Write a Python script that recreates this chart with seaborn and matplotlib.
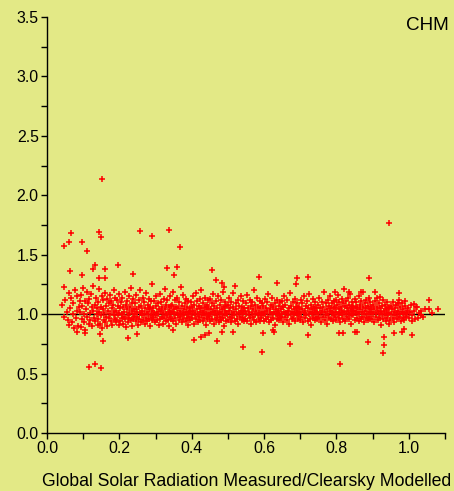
import matplotlib
matplotlib.use("Agg")
import matplotlib.pyplot as plt
import seaborn as sns
import pandas as pd
from matplotlib.ticker import MultipleLocator

# ---- data ----
cloud_x = [
 0.042,0.048,0.051,0.055,0.058,0.060,0.062,0.064,0.067,0.069,0.071,0.073,0.075,0.077,0.080,0.082,0.084,0.086,0.088,0.090,
 0.091,0.093,0.095,0.096,0.098,0.100,0.101,0.103,0.105,0.106,0.108,0.110,0.111,0.113,0.115,0.116,0.118,0.120,0.121,0.123,0.125,0.126,0.128,0.130,0.132,0.133,0.135,0.137,0.138,0.140,
 0.141,0.142,0.144,0.145,0.147,0.148,0.150,0.151,0.153,0.154,0.156,0.157,0.158,0.160,0.161,0.163,0.164,0.166,0.167,0.169,0.170,0.172,0.173,0.175,0.176,0.178,0.179,0.181,0.182,0.184,0.185,0.186,0.188,0.189,0.190,
 0.191,0.192,0.194,0.195,0.196,0.198,0.199,0.200,0.202,0.203,0.204,0.206,0.207,0.208,0.210,0.211,0.212,0.214,0.215,0.216,0.218,0.219,0.220,0.222,0.223,0.224,0.226,0.227,0.228,0.230,0.231,0.232,0.234,0.235,0.236,0.237,0.238,0.239,0.240,0.241,
 0.242,0.243,0.245,0.246,0.247,0.249,0.250,0.251,0.253,0.254,0.255,0.257,0.258,0.259,0.261,0.262,0.263,0.265,0.266,0.267,0.269,0.270,0.271,0.273,0.274,0.275,0.277,0.278,0.279,0.281,0.282,0.283,0.285,0.286,0.287,0.288,0.289,0.290,0.291,0.292,
 0.293,0.294,0.296,0.297,0.298,0.300,0.301,0.302,0.304,0.305,0.306,0.308,0.309,0.310,0.312,0.313,0.314,0.316,0.317,0.318,0.320,0.321,0.322,0.324,0.325,0.326,0.328,0.329,0.330,0.332,0.333,0.334,0.336,0.337,0.338,0.339,0.340,0.341,0.342,0.343,
 0.344,0.345,0.347,0.348,0.349,0.351,0.352,0.353,0.355,0.356,0.357,0.359,0.360,0.361,0.363,0.364,0.365,0.367,0.368,0.369,0.371,0.372,0.373,0.375,0.376,0.377,0.379,0.380,0.381,0.383,0.384,0.385,0.387,0.388,0.389,0.390,0.391,0.392,0.393,0.394,
 0.395,0.396,0.398,0.399,0.400,0.402,0.403,0.404,0.406,0.407,0.408,0.410,0.411,0.412,0.414,0.415,0.416,0.418,0.419,0.420,0.422,0.423,0.424,0.426,0.427,0.428,0.430,0.431,0.432,0.434,0.435,0.436,0.438,0.439,0.440,0.441,0.442,0.443,0.444,0.445,
 0.446,0.447,0.449,0.450,0.451,0.453,0.454,0.455,0.457,0.458,0.459,0.461,0.462,0.463,0.465,0.466,0.467,0.469,0.470,0.471,0.473,0.474,0.475,0.477,0.478,0.479,0.481,0.482,0.483,0.485,0.486,0.487,0.489,0.490,0.491,0.492,0.493,0.494,0.495,0.496,
 0.497,0.499,0.500,0.502,0.503,0.505,0.506,0.508,0.509,0.511,0.512,0.514,0.515,0.517,0.518,0.520,0.521,0.523,0.524,0.526,0.527,0.529,0.530,0.532,0.533,0.535,0.536,0.538,0.539,0.540,0.541,0.542,0.543,0.544,0.545,
 0.546,0.548,0.549,0.551,0.552,0.554,0.555,0.557,0.558,0.560,0.561,0.563,0.564,0.566,0.567,0.569,0.570,0.572,0.573,0.575,0.576,0.578,0.579,0.581,0.582,0.584,0.585,0.587,0.588,0.589,0.590,0.591,0.592,0.593,0.594,
 0.596,0.597,0.599,0.600,0.602,0.603,0.605,0.606,0.608,0.609,0.611,0.612,0.614,0.615,0.617,0.618,0.620,0.621,0.623,0.624,0.626,0.627,0.629,0.630,0.632,0.633,0.635,0.636,0.638,0.639,0.640,0.641,0.642,0.643,0.644,
 0.646,0.647,0.649,0.650,0.652,0.653,0.655,0.656,0.658,0.659,0.661,0.662,0.664,0.665,0.667,0.668,0.670,0.671,0.673,0.674,0.676,0.677,0.679,0.680,0.682,0.683,0.685,0.686,0.688,0.689,0.690,0.691,0.692,0.693,0.694,
 0.696,0.697,0.699,0.700,0.702,0.703,0.705,0.706,0.708,0.709,0.711,0.712,0.714,0.715,0.717,0.718,0.720,0.721,0.723,0.724,0.726,0.727,0.729,0.730,0.732,0.733,0.735,0.736,0.738,0.739,0.740,0.741,0.742,0.743,0.744,
 0.746,0.747,0.749,0.750,0.752,0.753,0.755,0.756,0.758,0.759,0.761,0.762,0.764,0.765,0.767,0.768,0.770,0.771,0.773,0.774,0.776,0.777,0.779,0.780,0.782,0.783,0.785,0.786,0.788,0.789,0.790,0.791,0.792,0.793,0.794,
 0.795,0.796,0.798,0.799,0.800,0.802,0.803,0.804,0.806,0.807,0.808,0.810,0.811,0.812,0.814,0.815,0.816,0.818,0.819,0.820,0.822,0.823,0.824,0.826,0.827,0.828,0.830,0.831,0.832,0.834,0.835,0.836,0.838,0.839,0.840,0.841,0.842,0.843,0.844,0.845,
 0.846,0.847,0.849,0.850,0.851,0.853,0.854,0.855,0.857,0.858,0.859,0.861,0.862,0.863,0.865,0.866,0.867,0.869,0.870,0.871,0.873,0.874,0.875,0.877,0.878,0.879,0.881,0.882,0.883,0.885,0.886,0.887,0.889,0.890,0.891,0.892,0.893,0.894,0.895,0.896,
 0.897,0.899,0.900,0.902,0.903,0.905,0.906,0.908,0.909,0.911,0.912,0.914,0.915,0.917,0.918,0.920,0.921,0.923,0.924,0.926,0.927,0.929,0.930,0.932,0.933,0.935,0.936,0.938,0.939,0.940,0.941,0.942,0.943,0.944,0.945,
 0.946,0.948,0.950,0.951,0.953,0.955,0.957,0.958,0.960,0.962,0.963,0.965,0.967,0.968,0.970,0.972,0.973,0.975,0.977,0.978,0.980,0.982,0.983,0.985,0.987,0.988,0.990,0.991,0.992,0.994,
 0.996,0.998,1.001,1.004,1.007,1.010,1.013,1.017,1.020,1.028,1.035,1.045,
]
cloud_y = [
 1.08,0.98,1.12,1.02,0.95,1.18,0.91,1.05,1.14,0.93,1.00,1.09,0.88,1.20,0.97,1.03,1.15,0.90,1.06,1.11,
 1.02,0.89,1.16,0.96,1.07,1.22,0.93,1.00,1.11,0.87,1.04,1.19,0.98,1.09,0.92,1.13,1.01,0.95,1.17,1.06,0.90,1.03,1.24,0.97,1.08,0.94,1.14,1.00,1.05,0.91,
 1.10,0.96,1.02,1.21,0.92,1.06,0.99,1.15,0.88,1.04,1.12,0.95,1.01,1.18,0.93,1.07,0.98,1.13,0.90,1.03,1.09,0.97,1.16,1.00,0.94,1.11,1.05,0.91,1.08,0.99,1.20,1.02,0.96,1.14,0.93,
 1.03,0.95,1.12,0.99,1.07,0.91,1.17,1.01,0.94,1.05,1.10,0.97,1.00,1.14,0.92,1.06,0.98,1.02,1.19,0.96,1.08,0.89,1.04,1.11,0.99,0.93,1.15,1.01,0.97,1.06,1.22,0.95,1.03,0.90,1.09,1.00,0.96,1.13,1.04,0.98,
 1.00,1.09,0.94,1.04,1.16,0.98,1.02,0.91,1.12,1.06,0.96,1.01,1.20,0.93,1.07,0.99,1.03,1.14,0.95,1.00,1.10,0.92,1.05,0.97,1.18,1.02,0.94,1.08,1.00,0.96,1.13,1.04,0.90,1.06,0.99,1.11,0.95,1.03,1.25,0.98,
 1.05,0.97,1.01,1.11,0.93,1.07,0.99,1.15,1.02,0.95,1.09,1.00,0.91,1.04,1.17,0.96,1.03,1.10,0.98,1.06,0.92,1.01,1.13,0.97,1.04,1.21,0.94,1.00,1.08,0.99,1.12,0.95,1.02,1.06,0.90,1.15,1.03,0.98,1.07,1.01,
 0.96,1.08,1.02,1.19,0.94,1.04,1.00,1.12,0.97,1.06,0.92,1.01,1.14,0.99,1.05,0.95,1.10,1.03,0.98,1.23,1.00,0.93,1.07,1.01,1.16,0.96,1.04,0.99,1.09,0.94,1.02,1.13,0.97,1.06,1.00,0.91,1.11,1.03,0.98,1.05,
 1.02,0.95,1.10,1.00,1.06,0.97,1.15,1.03,0.92,1.08,0.99,1.01,1.18,0.96,1.04,1.11,0.93,1.00,1.07,0.98,1.13,1.02,0.95,1.05,1.20,0.99,1.03,0.94,1.09,1.01,0.97,1.14,1.06,0.91,1.00,1.08,0.96,1.04,1.12,0.99,
 1.06,0.98,1.01,1.13,0.94,1.04,1.00,1.09,0.96,1.17,1.02,0.92,1.07,0.99,1.03,1.11,0.95,1.00,1.05,0.97,1.15,1.01,0.93,1.08,1.02,0.98,1.12,0.95,1.04,1.00,1.19,0.97,1.06,0.90,1.03,1.10,0.99,1.01,0.94,1.07,
 1.00,1.08,0.95,1.03,1.14,0.98,1.05,0.93,1.10,1.01,0.97,1.06,1.18,0.99,1.02,0.94,1.09,1.04,0.96,1.00,1.12,0.92,1.07,1.01,0.98,1.15,1.03,0.95,1.06,1.00,0.97,1.11,1.02,0.94,1.05,
 1.03,0.96,1.09,1.00,1.16,0.94,1.05,0.99,1.02,1.12,0.97,1.07,0.92,1.01,1.10,0.98,1.04,1.20,0.95,1.00,1.08,0.93,1.03,1.14,0.99,1.06,0.96,1.01,1.11,0.94,1.05,1.00,0.97,1.09,1.02,
 0.99,1.07,1.02,0.94,1.13,1.00,1.05,0.96,1.10,1.03,0.98,1.17,0.93,1.04,1.01,1.08,0.95,1.00,1.14,0.97,1.06,1.02,0.91,1.09,1.00,1.04,0.96,1.12,0.99,1.03,1.07,0.95,1.01,1.10,0.98,
 1.04,0.97,1.11,1.00,1.06,0.93,1.02,1.15,0.98,1.08,1.01,0.95,1.12,1.03,0.99,1.05,0.92,1.18,1.00,1.07,0.96,1.02,1.10,0.97,1.04,1.00,1.13,0.94,1.06,1.01,0.99,1.09,1.03,0.96,1.05,
 1.00,1.06,0.95,1.02,1.12,0.98,1.04,1.09,0.93,1.01,1.15,0.97,1.03,1.07,0.99,1.11,0.94,1.05,1.00,1.17,0.96,1.02,1.08,0.91,1.04,1.00,1.13,0.97,1.06,1.01,0.95,1.10,1.03,0.98,1.05,
 1.02,0.96,1.08,1.00,1.14,0.97,1.05,1.01,0.93,1.10,1.03,0.98,1.06,1.19,0.95,1.02,1.09,0.99,1.04,0.92,1.12,1.00,1.07,0.97,1.03,1.15,0.96,1.05,1.01,1.09,0.94,1.02,1.11,0.99,1.06,
 1.05,0.98,1.12,1.02,0.95,1.08,1.00,1.16,1.04,0.97,1.10,1.01,0.93,1.06,1.13,0.99,1.03,1.09,0.96,1.21,1.02,1.07,0.94,1.00,1.11,1.05,0.98,1.14,1.03,0.96,1.08,1.01,1.17,0.99,1.04,0.92,1.10,1.06,1.00,1.03,
 1.07,0.99,1.03,1.13,0.95,1.05,1.01,1.10,0.97,1.06,1.02,0.94,1.15,1.00,1.08,1.04,0.96,1.11,1.02,0.98,1.06,1.19,1.00,0.93,1.09,1.03,0.97,1.05,1.12,1.00,0.95,1.07,1.02,1.14,0.98,1.04,1.10,0.96,1.01,1.06,
 1.02,0.96,1.08,1.00,1.04,0.93,1.11,1.01,0.98,1.06,1.14,0.95,1.03,1.00,1.09,0.97,1.05,1.02,0.91,1.07,1.00,1.12,0.96,1.03,1.08,0.99,1.04,0.94,1.01,1.10,0.97,1.05,1.00,0.92,1.06,
 1.01,0.95,1.07,1.00,1.04,0.97,1.10,1.02,0.93,1.05,0.99,1.08,1.01,0.96,1.03,1.12,0.98,1.00,1.06,0.94,1.02,1.09,0.97,1.04,1.00,0.95,1.07,1.01,0.98,1.03,
 1.00,1.05,0.97,1.02,1.08,0.99,1.03,0.96,1.06,1.01,0.99,1.04,
]
high_x = [0.152,0.047,0.060,0.065,0.097,0.110,0.145,0.149,0.256,0.290,0.338,0.367,0.063,0.097,0.134,0.126,0.144,0.160,0.160,0.196,
          0.237,0.331,0.351,0.359,0.455,0.046,0.467,0.945,0.586,0.692,0.720,0.890,0.637,0.519,0.485,0.689,0.490,1.057,1.082,1.056,
          1.064,1.040,1.026,1.015,1.022,1.033,1.009,0.974,0.990,0.970,0.921,0.907,0.867,0.834,0.796]
high_y = [2.14,1.57,1.61,1.685,1.61,1.53,1.69,1.65,1.70,1.66,1.71,1.567,1.36,1.33,1.41,1.38,1.30,1.30,1.38,1.41,
          1.34,1.39,1.33,1.40,1.37,1.225,1.29,1.77,1.315,1.30,1.31,1.306,1.26,1.234,1.265,1.25,1.23,1.118,1.043,1.04,
          1.01,0.98,0.965,1.085,1.057,1.023,0.944,1.175,1.113,1.096,1.144,1.183,1.186,1.186,1.186]
low_x = [0.116,0.133,0.148,0.154,0.406,0.470,0.541,0.594,0.672,0.809,0.887,0.931,0.930,0.225,0.250,0.082,0.106,0.146,0.349,0.425,
         0.438,0.448,0.485,0.931,1.010,0.515,0.596,0.722,0.807,0.818,0.851,0.857,0.959,0.981,0.988,0.625,0.628]
low_y = [0.558,0.578,0.547,0.776,0.780,0.776,0.723,0.684,0.751,0.578,0.763,0.743,0.675,0.800,0.830,0.850,0.845,0.830,0.866,0.810,
         0.824,0.844,0.852,0.810,0.824,0.852,0.838,0.824,0.844,0.844,0.852,0.852,0.838,0.852,0.872,0.866,0.852]

x_label = "Global Solar Radiation Measured/Clearsky Modelled"
site_label = "CHM"
x_ticks = [0.0, 0.2, 0.4, 0.6, 0.8, 1.0]
y_ticks = [0.0, 0.5, 1.0, 1.5, 2.0, 2.5, 3.0, 3.5]
ref_value = 1.0

n = min(len(cloud_x), len(cloud_y))
xs = cloud_x[:n] + high_x + low_x
ys = cloud_y[:n] + high_y + low_y
df = pd.DataFrame({"x": xs, "y": ys})

bg = "#E3E986"
sns.set_theme(style="ticks")
plt.rcParams["font.family"] = ["Liberation Sans", "DejaVu Sans"]

fig = plt.figure(figsize=(4.54, 4.91), dpi=100, facecolor=bg)
ax = fig.add_axes([47/454, 58/491, 398/454, 416/491])
ax.set_facecolor(bg)

ax.axhline(ref_value, color="black", lw=1.0, zorder=1)
sns.scatterplot(data=df, x="x", y="y", marker="+", color="red", s=20,
                linewidth=1.1, ax=ax, zorder=2)

ax.set_xlim(0, 1.1)
ax.set_ylim(0, 3.5)
ax.set_xticks(x_ticks)
ax.set_yticks(y_ticks)
ax.set_xticklabels([f"{v:.1f}" for v in x_ticks])
ax.set_yticklabels([f"{v:.1f}" for v in y_ticks])
ax.xaxis.set_minor_locator(MultipleLocator(0.1))
ax.yaxis.set_minor_locator(MultipleLocator(0.25))
ax.tick_params(which="both", direction="out", color="black", width=1.0,
               labelsize=11.4, labelcolor="black", pad=2)
ax.tick_params(which="major", length=4)
ax.tick_params(which="minor", length=4)

for s in ["top", "right"]:
    ax.spines[s].set_visible(False)
for s in ["left", "bottom"]:
    ax.spines[s].set_color("black")
    ax.spines[s].set_linewidth(1.0)

ax.set_xlabel("")
ax.set_ylabel("")
fig.text(247/454, 1 - 481/491, x_label, fontsize=12.7, color="black",
         ha="center", va="center")
fig.text(406/454, 1 - 25/491, site_label, fontsize=13.6, color="black",
         ha="left", va="center")

fig.savefig("out.png", dpi=100, facecolor=bg)
